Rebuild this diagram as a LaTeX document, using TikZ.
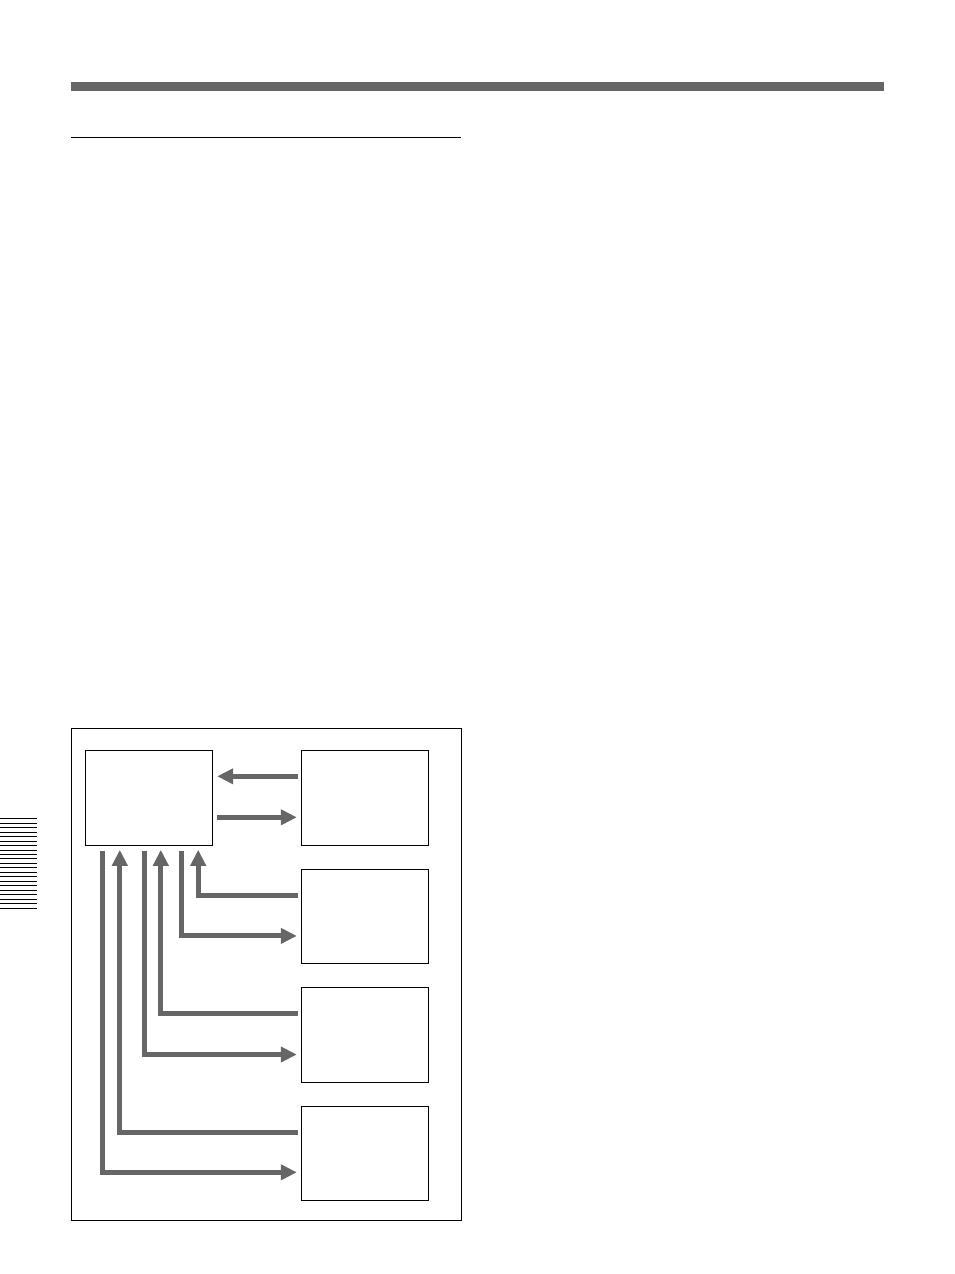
\documentclass[tikz,border=0pt]{standalone}
\usepackage{tikz}
\usepackage{xcolor}
\usetikzlibrary{arrows.meta}

\definecolor{bargray}{RGB}{102,102,102}

\begin{document}
\begin{tikzpicture}[x=1pt,y=-1pt,node distance=118.5pt,>={Triangle[length=16pt,width=15pt]}]
       \tikzstyle{unit}=[draw=black,line width=1pt,minimum width=127pt,minimum height=94.6pt,inner sep=0pt]
       \tikzstyle{link}=[draw=bargray,line width=5pt]
       \tikzstyle{linkarr}=[link,->]

       \useasboundingbox (0,0) rectangle (954,1274);

       \fill[bargray] (71,82) rectangle (884,91);
       \draw[line width=1.3pt] (71,137.3) -- (461,137.3);
       \foreach \i in {0,...,20}
          \draw[line width=1pt] (0,818.7+4.47*\i) -- (36.7,818.7+4.47*\i);
       \draw[line width=1pt] (71.7,728.3) rectangle (461.7,1220);

       \node[unit] (A) at (149.2,798) {};
       \node[unit] (B) [node distance=215.6pt, right of=A] {};
       \node[unit] (C) [below of=B] {};
       \node[unit] (D) [below of=C] {};
       \node[unit] (E) [below of=D] {};

       \draw[linkarr] ([xshift=-2.6pt,yshift=21.7pt]B.west) -- ([xshift=4pt,yshift=21.7pt]A.east);
       \draw[linkarr] ([xshift=3.3pt,yshift=-19.3pt]A.east) -- ([xshift=-4pt,yshift=-19.3pt]B.west);

       \draw[linkarr] ([xshift=-2.6pt,yshift=21.3pt]C.west) -| ([xshift=113pt,yshift=-4pt]A.south west);
       \draw[linkarr] ([xshift=96.6pt,yshift=-4.7pt]A.south west) |- ([xshift=-4pt,yshift=-19.4pt]C.west);

       \draw[linkarr] ([xshift=-2.6pt,yshift=21.1pt]D.west) -| ([xshift=75.6pt,yshift=-4pt]A.south west);
       \draw[linkarr] ([xshift=59.3pt,yshift=-4.7pt]A.south west) |- ([xshift=-4pt,yshift=-19.5pt]D.west);

       \draw[linkarr] ([xshift=-2.6pt,yshift=21.2pt]E.west) -| ([xshift=34.6pt,yshift=-4pt]A.south west);
       \draw[linkarr] ([xshift=17.6pt,yshift=-4.7pt]A.south west) |- ([xshift=-4pt,yshift=-18.8pt]E.west);
\end{tikzpicture}
\end{document}
